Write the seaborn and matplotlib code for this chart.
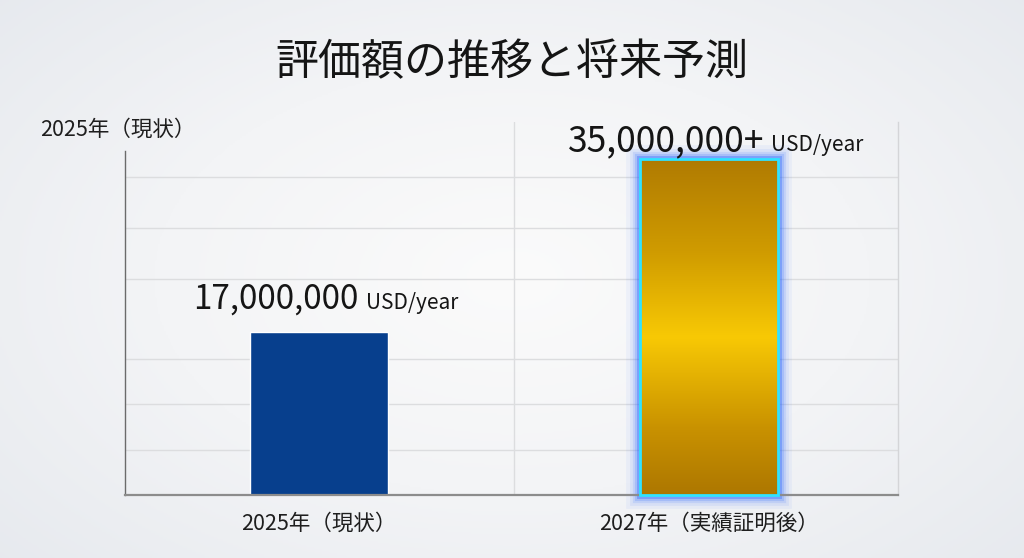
import matplotlib

matplotlib.use("Agg")
import matplotlib.pyplot as plt
import numpy as np
import pandas as pd
import seaborn as sns
from matplotlib.colors import LinearSegmentedColormap
from matplotlib.patches import Rectangle

# data
categories = ["2025年（現状）", "2027年（実績証明後）"]
values = [17_000_000, 35_000_000]
value_labels = ["17,000,000", "35,000,000+"]
unit_label = "USD/year"
title = "評価額の推移と将来予測"
corner_label = "2025年（現状）"

# style
GRID_Y = [4.7e6, 9.5e6, 14.2e6, 22.5e6, 27.8e6, 33.1e6]
BLUE = "#073f8d"

sns.set_theme(style="white")
plt.rcParams["font.family"] = ["Noto Sans CJK JP", "DejaVu Sans"]

fig = plt.figure(figsize=(10.24, 5.58), dpi=100)

# soft background vignette
bg = fig.add_axes([0, 0, 1, 1], zorder=-1)
yy, xx = np.mgrid[-1:1:300j, -1:1:550j]
r = np.sqrt(xx ** 2 + (yy * 0.9) ** 2)
bg_cmap = LinearSegmentedColormap.from_list("bg", ["#fbfbfb", "#f3f4f6", "#e6e9ee"])
bg.imshow(r, cmap=bg_cmap, aspect="auto", extent=(0, 1, 0, 1), vmin=0, vmax=1.4)
bg.axis("off")

ax = fig.add_axes([0.122, 0.113, 0.755, 0.668])
ax.set_facecolor("none")

df = pd.DataFrame({"category": categories, "value": values})
sns.barplot(data=df, x="category", y="value", order=categories, width=0.354,
            color=BLUE, saturation=1, ax=ax)

ymax = 38.85e6

# gold gradient bar with glow
gold = ax.patches[1]
gx, gw, gh = gold.get_x(), gold.get_width(), gold.get_height()
gold.set_facecolor("none")
gold.set_edgecolor("none")
gold_cmap = LinearSegmentedColormap.from_list(
    "gold", [(0, "#ad7700"), (0.2, "#c99200"), (0.47, "#f8c905"), (0.72, "#d09c00"), (1, "#b07b02")]
)
grad = np.linspace(0, 1, 256).reshape(-1, 1)
ax.imshow(grad, cmap=gold_cmap, origin="lower", aspect="auto",
          extent=(gx, gx + gw, 0, gh), zorder=3)
for lw, a in [(20, 0.05), (15, 0.08), (11, 0.12), (8, 0.18), (5, 0.35)]:
    ax.add_patch(Rectangle((gx, 0), gw, gh, facecolor="none", edgecolor="#2a66ff",
                           lw=lw, alpha=a, zorder=2, clip_on=False))
ax.add_patch(Rectangle((gx, 0), gw, gh, facecolor="none", edgecolor="#31e2ff",
                       lw=2, zorder=4, clip_on=False))
ax.set_xlim(-0.497, 1.485)
ax.set_ylim(0, ymax)

# grid
for gy in GRID_Y:
    ax.axhline(gy, color="#dcdddf", lw=1, zorder=0)
ax.axvline(0.5, color="#dcdddf", lw=1, zorder=0)

ax.spines["top"].set_visible(False)
ax.spines["right"].set_color("#d4d5d8")
ax.spines["right"].set_linewidth(1)
ax.spines["left"].set_color("#6b6b6b")
ax.spines["left"].set_linewidth(1)
ax.spines["left"].set_bounds(0, 35.9e6)
ax.spines["bottom"].set_color("#8c8c8c")
ax.spines["bottom"].set_linewidth(1.6)

ax.set_yticks([])
ax.set_xlabel("")
ax.set_ylabel("")
ax.tick_params(axis="x", length=0, pad=13, labelsize=15.5, labelcolor="#1e1e1e")

# value labels: big number + unit, centered as a group over each bar
fig.canvas.draw()
renderer = fig.canvas.get_renderer()
num_sizes = [24, 25.5]
gaps = [23, 8]
sep = 7
for i, (val, lab) in enumerate(zip(values, value_labels)):
    t1 = ax.annotate(lab, (i, val), xytext=(0, gaps[i]), textcoords="offset pixels",
                     ha="left", va="baseline", fontsize=num_sizes[i], color="#151515", zorder=6)
    t2 = ax.annotate(unit_label, (i, val), xytext=(0, gaps[i]), textcoords="offset pixels",
                     ha="left", va="baseline", fontsize=15, color="#151515", zorder=6)
    w1 = t1.get_window_extent(renderer).width
    w2 = t2.get_window_extent(renderer).width
    total = w1 + sep + w2
    start = -total / 2 + 7
    t1.set_position((start, gaps[i]))
    t2.set_position((start + w1 + sep, gaps[i]))

fig.text(0.5, 0.886, title, ha="center", va="center", fontsize=31, color="#151515")
fig.text(0.039, 0.767, corner_label, ha="left", va="center", fontsize=15.5, color="#1e1e1e")

fig.savefig("out.png", dpi=100)
